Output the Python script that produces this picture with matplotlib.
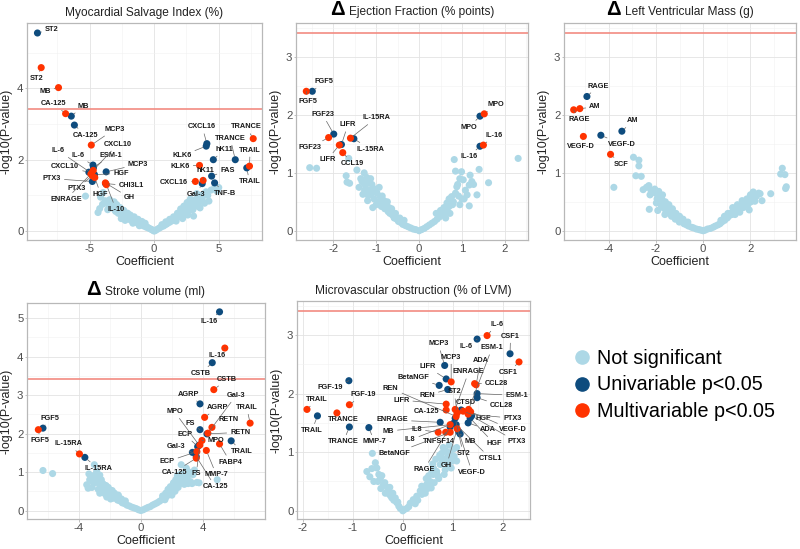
import matplotlib
matplotlib.use("Agg")
import matplotlib.pyplot as plt
from matplotlib.ticker import AutoMinorLocator, FixedLocator
from matplotlib.offsetbox import TextArea, HPacker, AnchoredOffsetbox
from matplotlib.lines import Line2D

plt.rcParams['font.family'] = ['Liberation Sans', 'DejaVu Sans']
plt.rcParams['axes.unicode_minus'] = False

# ---------------- DATA ----------------
threshold = 3.41  # -log10(0.05/128)

# Panel 1: Myocardial Salvage Index
msi_uni_names = ["ST2", "MB", "CA-125", "IL-6", "ESM-1", "CXCL10", "MCP3", "HGF", "PTX3", "CHI3L1",
                 "CXCL16", "KLK6", "hK11", "TRANCE", "TRAIL", "FAS", "TNF-B", "Gal-3"]
msi_uni_x = [-9.04, -6.42, -6.18, -4.74, -4.70, -5.06, -3.72, -4.62, -4.79, -3.76,
             4.08, 4.03, 4.58, 6.28, 7.17, 4.45, 4.68, 3.72]
msi_uni_y = [5.55, 3.22, 2.97, 1.85, 1.78, 1.65, 1.66, 1.58, 1.39, 1.33,
             2.45, 2.38, 2.00, 2.00, 1.77, 1.54, 1.35, 1.33]
msi_multi_names = ["ST2", "MB", "CA-125", "MCP3", "CXCL10", "IL-6", "PTX3", "HGF", "ENRAGE", "GH", "IL-10",
                   "TRANCE", "TRAIL", "KLK6", "hK11", "CXCL16"]
msi_multi_x = [-8.75, -7.41, -6.86, -4.87, -4.72, -4.85, -4.80, -4.60, -4.90, -3.78, -3.70,
               7.67, 7.38, 3.51, 3.79, 3.19]
msi_multi_y = [4.58, 4.02, 3.29, 2.41, 1.70, 1.62, 1.55, 1.50, 1.60, 1.35, 1.30,
               2.59, 1.82, 1.84, 1.42, 1.39]
msi_ns_x = [-5.32, -4.35, -4.22, -4.15, -3.95, -3.35, -3.52, -3.28, -3.18, -3.07, -2.98, -2.88, -2.79,
            -2.71, -2.58, -2.49, -2.44, -2.31, -2.19, -2.12, -1.98, -1.91, -1.79, -1.72, -1.61, -1.49,
            -1.42, -1.31, -1.18, -1.09, -0.97, -0.91, -0.79, -0.68, -0.61, -0.49, -0.41, -0.29, -0.18,
            -0.09, 0.0, 0.11, 0.24, 0.38, 0.52, 0.71, 0.83, 0.98, 1.16, 1.29, 1.44, 1.62, 1.73, 1.91,
            2.02, 2.11, 2.19, 2.33, 2.41, 2.52, 2.63, 2.71, 2.77, 2.86, 2.94, 3.05, 3.12, 3.21, 3.32,
            3.41, 3.52, 3.61, 3.72, 3.86, 4.02, 4.24, 4.41, 4.71, 5.0, 4.86,
            -3.8, -3.45, -3.1, -2.9, -2.65, -2.35, -2.05, -1.85, -1.55, -1.25, -0.95, -0.7, -2.55,
            -2.25, -1.65, -1.15, -3.6, -4.0, 0.6, 0.9, 1.2, 1.5, 1.8, 2.05, 2.3, 2.55, 2.8, 3.0,
            3.3, 2.6, 2.2, 1.7, 3.55, 3.9, 4.15]
msi_ns_y = [0.98, 0.52, 0.63, 0.95, 1.08, 0.77, 0.72, 0.66, 0.70, 0.60, 0.55, 0.62, 0.50,
            0.56, 0.47, 0.51, 0.42, 0.45, 0.38, 0.41, 0.34, 0.37, 0.30, 0.33, 0.27, 0.30,
            0.24, 0.26, 0.20, 0.22, 0.17, 0.19, 0.14, 0.15, 0.11, 0.10, 0.08, 0.06, 0.04,
            0.02, 0.0, 0.02, 0.05, 0.08, 0.11, 0.14, 0.17, 0.20, 0.24, 0.27, 0.30, 0.34, 0.37, 0.41,
            0.45, 0.50, 0.43, 0.55, 0.60, 0.52, 0.66, 0.58, 0.72, 0.65, 0.80, 0.42, 0.74, 0.88, 0.70,
            0.95, 0.82, 1.00, 0.90, 1.05, 1.10, 0.84, 1.15, 1.25, 1.22, 1.12,
            0.85, 0.88, 0.82, 0.74, 0.66, 0.58, 0.50, 0.45, 0.40, 0.33, 0.27, 0.22, 0.35,
            0.30, 0.22, 0.15, 0.60, 0.75, 0.18, 0.26, 0.33, 0.40, 0.50, 0.62, 0.70, 0.80, 0.90, 0.60,
            1.05, 0.45, 0.35, 0.28, 0.65, 0.78, 1.00]

# Panel 2: Delta Ejection Fraction
ef_uni_names = ["FGF5", "FGF23", "LIFR", "IL-15RA", "MPO", "IL-16"]
ef_uni_x = [-2.49, -1.99, -1.81, -1.52, 1.42, 1.42]
ef_uni_y = [2.41, 1.67, 1.49, 1.59, 1.98, 1.46]
ef_multi_names = ["FGF5", "FGF23", "LIFR", "IL-15RA", "CCL19", "MPO", "IL-16"]
ef_multi_x = [-2.63, -2.11, -1.86, -1.60, -1.78, 1.52, 1.50]
ef_multi_y = [2.41, 1.61, 1.48, 1.60, 1.35, 2.02, 1.48]
ef_ns_x = [-2.55, -2.39, -1.70, -1.64, -1.68, -1.62, -1.45, -1.36, -1.28, -1.22, -1.25, -1.18, -1.15,
           -1.12, -1.10, -1.05, -1.02, -0.98, -0.95, -0.90, -0.88, -0.85, -0.80, -0.76, -0.72, -0.68,
           -0.62, -0.58, -0.52, -0.48, -0.42, -0.38, -0.32, -0.26, -0.20, -0.14, -0.08, 0.0, -1.31,
           -1.20, -1.08, 0.06, 0.12, 0.18, 0.24, 0.30, 0.36, 0.42, 0.48, 0.55, 0.60, 0.65, 0.70, 0.76,
           0.80, 0.88, 0.92, 0.99, 1.03, 1.08, 1.19, 1.17, 1.27, 1.40, 1.62, 1.17, 2.31, 0.82, 0.85,
           1.05, 0.72, 0.95, 1.35,
           -1.40, -1.33, -1.27, -1.20, -1.13, -1.06, -1.00, -0.93, -0.86, -0.82, -0.74, -0.70, -0.64,
           -0.55, -0.45, -0.35, 0.50, 0.58, 0.65, 0.70, 0.78, 0.85, 0.90, 0.95, 1.00, 1.12, 1.23,
           0.62, 0.40]
ef_ns_y = [1.09, 1.08, 0.95, 1.25, 0.84, 0.82, 1.05, 0.90, 1.00, 0.92, 0.78, 0.85, 0.70,
           0.62, 0.80, 0.55, 0.72, 0.65, 0.50, 0.58, 0.42, 0.47, 0.38, 0.44, 0.33, 0.30,
           0.27, 0.22, 0.20, 0.16, 0.14, 0.11, 0.09, 0.07, 0.05, 0.03, 0.02, 0.0, 0.63,
           0.52, 0.40, 0.02, 0.04, 0.07, 0.10, 0.13, 0.16, 0.20, 0.24, 0.28, 0.32, 0.36, 0.42, 0.59,
           0.50, 0.76, 0.60, 1.02, 0.88, 0.70, 0.96, 0.79, 0.80, 1.06, 0.83, 0.43, 1.25, 1.23, 1.03,
           0.55, 0.30, 0.45, 0.62,
           0.75, 0.85, 0.70, 0.62, 0.90, 0.68, 0.45, 0.75, 0.60, 0.52, 0.50, 0.40, 0.38,
           0.30, 0.22, 0.18, 0.35, 0.40, 0.48, 0.55, 0.45, 0.65, 0.80, 0.90, 0.55, 0.62, 0.85,
           0.22, 0.30]

# Panel 3: Delta Left Ventricular Mass
lvm_uni_names = ["RAGE", "AM", "VEGF-D"]
lvm_uni_x = [-4.92, -3.44, -4.33]
lvm_uni_y = [2.32, 1.72, 1.65]
lvm_multi_names = ["RAGE", "AM", "VEGF-D", "SCF"]
lvm_multi_x = [-5.48, -5.22, -5.07, -3.92]
lvm_multi_y = [2.09, 2.11, 1.63, 1.32]
lvm_ns_x = [-2.95, -2.72, -2.72, -2.85, -2.62, -3.78, -2.30, -2.54, -2.28, -2.21, -2.12, -2.02, -1.95,
            -1.90, -1.84, -1.79, -1.75, -1.70, -1.66, -1.58, -1.49, -1.41, -1.34, -1.26, -1.18, -1.10,
            -1.01, -0.92, -0.81, -0.70, -0.61, -0.49, -0.41, -0.29, -0.18, -0.09, 0.0, 0.08, 0.19,
            0.31, 0.42, 0.51, 0.62, 0.71, 0.79, 0.91, 1.02, 1.08, 1.13, 1.21, 1.31, 1.42, 1.51, 1.62,
            1.70, 1.81, 1.89, 2.02, 2.11, 2.19, 2.26, 2.41, 2.49, 2.86, 3.35, 3.46, 3.28, 3.52, 3.49,
            2.12, 1.95,
            -2.40, -2.25, -2.05, -1.98, -1.88, -1.82, -1.72, -1.60, -1.55, -1.45, -1.30, -1.15, -1.00,
            -0.85, -0.65, -1.92, -1.62, 0.90, 1.05, 1.25, 1.45, 1.65, 1.85, 2.00, 2.15, 2.35, 1.35,
            1.55, 0.75]
lvm_ns_y = [1.27, 1.22, 1.12, 0.95, 0.94, 0.75, 0.78, 0.71, 0.37, 0.70, 0.68, 0.65, 0.55,
            0.60, 0.50, 0.45, 0.55, 0.40, 0.48, 0.35, 0.38, 0.30, 0.25, 0.28, 0.20, 0.22,
            0.15, 0.17, 0.12, 0.10, 0.08, 0.06, 0.05, 0.03, 0.02, 0.01, 0.0, 0.01, 0.03,
            0.04, 0.06, 0.08, 0.10, 0.12, 0.15, 0.18, 0.22, 0.25, 0.30, 0.28, 0.32, 0.35, 0.38, 0.45,
            0.40, 0.48, 0.45, 0.50, 0.58, 0.51, 0.60, 0.64, 0.52, 0.64, 1.08, 0.97, 0.98, 0.76, 0.73,
            0.67, 0.36,
            0.75, 0.62, 0.72, 0.48, 0.68, 0.58, 0.62, 0.50, 0.42, 0.45, 0.38, 0.30, 0.25,
            0.20, 0.15, 0.35, 0.28, 0.25, 0.30, 0.40, 0.45, 0.52, 0.55, 0.62, 0.55, 0.65, 0.28,
            0.32, 0.18]

# Panel 4: Delta Stroke volume
sv_uni_names = ["IL-16", "CSTB", "AGRP", "FS", "MPO", "ECP", "Gal-3", "RETN", "TRAIL", "FGF5",
                "IL-15RA", "CA-125"]
sv_uni_x = [5.07, 4.60, 3.81, 3.81, 3.75, 3.66, 3.32, 4.26, 5.82, -6.31, -3.61, 3.57]
sv_uni_y = [5.16, 3.84, 2.77, 2.10, 1.70, 1.66, 1.51, 1.99, 1.81, 2.14, 1.38, 1.40]
sv_multi_names = ["IL-16", "CSTB", "AGRP", "Gal-3", "RETN", "TRAIL", "MPO", "ECP", "FS", "CA-125",
                  "FABP4", "MMP-7", "FGF5", "IL-15RA"]
sv_multi_x = [5.41, 4.70, 4.11, 4.32, 4.58, 7.04, 3.94, 3.61, 3.80, 3.57, 5.07, 4.22, -6.61, -3.96]
sv_multi_y = [4.22, 3.14, 2.42, 2.01, 2.16, 2.27, 1.82, 1.53, 1.70, 1.36, 1.73, 1.56, 2.10, 1.47]
sv_ns_x = [-6.31, -5.69, -3.00, -2.85, -3.49, -3.30, -3.15, -3.05, -2.95, -2.80, -2.75, -2.60, -2.50,
           -2.40, -2.30, -2.15, -2.00, -1.90, -1.75, -1.60, -1.50, -1.35, -1.20, -1.05, -0.90, -0.75,
           -0.60, -0.45, -0.30, -0.15, 0.0, 0.15, 0.30, 0.45, 0.60, 0.75, 0.90, 1.05, 1.20, 1.35,
           1.50, 1.65, 1.80, 1.95, 2.05, 2.15, 2.20, 2.30, 2.40, 2.50, 2.60, 2.70, 2.80, 2.93, 3.00,
           3.10, 3.20, 3.36, 3.45, 3.61, 3.75, 4.92, 2.45, -3.40, -2.65,
           -3.35, -3.10, -2.90, -2.70, -2.55, -2.45, -2.25, -2.10, -1.85, -1.70, -1.45, -1.25, -1.00,
           -2.20, -1.95, -2.65, 1.40, 1.60, 1.75, 1.90, 2.10, 2.25, 2.35, 2.55, 2.65, 2.85, 3.05,
           3.30, 2.00, 1.55]
sv_ns_y = [1.04, 0.96, 1.19, 1.02, 0.67, 0.80, 0.60, 0.90, 0.72, 0.85, 0.55, 0.65, 0.48,
           0.58, 0.43, 0.50, 0.38, 0.42, 0.32, 0.35, 0.27, 0.25, 0.20, 0.18, 0.14, 0.12,
           0.09, 0.07, 0.05, 0.02, 0.0, 0.02, 0.05, 0.08, 0.10, 0.14, 0.17, 0.20, 0.24, 0.28,
           0.32, 0.36, 0.42, 0.48, 0.55, 0.62, 0.50, 0.70, 0.60, 0.93, 1.19, 0.78, 0.68, 1.10, 0.88,
           1.00, 0.75, 0.93, 1.05, 0.73, 0.72, 0.80, 0.85, 0.58, 0.92,
           0.95, 0.75, 0.95, 0.75, 0.80, 0.70, 0.65, 0.60, 0.52, 0.45, 0.40, 0.30, 0.25,
           0.35, 0.30, 0.45, 0.38, 0.45, 0.55, 0.62, 0.72, 0.80, 0.90, 0.70, 0.95, 0.85, 0.70,
           0.70, 0.40, 0.28]

# Panel 5: Microvascular obstruction
mvo_uni_names = ["IL-6", "CSF1", "MCP3", "LIFR", "BetaNGF", "REN", "ESM-1", "CCL28", "FGF-19", "TRAIL",
                 "TRANCE", "MMP-7", "CTSD", "HGF", "ADA", "ENRAGE", "MB", "CTSL1", "RAGE", "PTX3",
                 "VEGF-D", "ST2", "IL8"]
mvo_uni_x = [1.49, 2.15, 0.84, 0.87, 0.73, 0.90, 1.49, 1.49, -1.08, -1.71,
             -1.07, -0.68, 1.17, 1.35, 1.31, 0.75, 1.15, 1.07, 0.95, 1.38,
             1.12, 1.05, 1.01]
mvo_uni_y = [2.93, 2.68, 2.48, 2.25, 2.14, 2.07, 2.00, 1.93, 2.22, 1.62,
             1.43, 1.42, 1.72, 1.58, 1.50, 1.51, 1.31, 1.47, 1.43, 1.62,
             1.35, 1.58, 1.49]
mvo_multi_names = ["IL-6", "CSF1", "MCP3", "CCL28", "ADA", "ESM-1", "ENRAGE", "ST2", "REN", "LIFR",
                   "CA-125", "FGF-19", "TRAIL", "TRANCE", "HGF", "PTX3", "VEGF-D", "MB", "IL8",
                   "TNFSF14", "BetaNGF", "GH"]
mvo_multi_x = [1.69, 2.33, 0.97, 1.44, 1.47, 1.32, 1.05, 1.09, 1.07, 0.87,
               0.87, -1.07, -1.92, -1.32, 1.21, 1.31, 1.36, 0.95, 0.71,
               0.86, 0.95, 1.09]
mvo_multi_y = [2.99, 2.54, 2.20, 2.17, 2.15, 1.73, 1.73, 1.67, 1.61, 1.82,
               1.72, 1.81, 1.73, 1.67, 1.70, 1.65, 1.69, 1.47, 1.34,
               1.34, 1.34, 1.40]
mvo_ns_x = [-0.72, -0.61, -0.52, -0.45, -0.39, -0.29, -0.22, -0.12, -0.66, -0.58, -0.48, -0.35,
            -0.31, -0.25, -0.18, -0.08, 0.0, 0.08, 0.15, 0.21, 0.28, 0.35, 0.41, 0.48, 0.55, 0.61,
            0.68, 0.75, 0.81, 0.88, 0.95, 1.01, 1.08, 0.57, 0.81, 0.97, 1.08, 0.45, 0.52, 0.63,
            0.72, 0.78, 0.85, 0.92, 0.66, 0.74, 0.90, 0.38, 0.25, 0.12, 0.03, -0.05,
            -0.62, -0.55, -0.50, -0.42, -0.44, -0.36, -0.30, -0.26, -0.20, -0.15, -0.10, 0.30,
            0.38, 0.50, 0.58, 0.62, 0.70, 0.77, 0.83, 0.86, 0.93, 0.99, 1.03, 0.60, 0.47]
mvo_ns_y = [0.67, 0.98, 0.73, 0.55, 0.44, 0.36, 0.22, 0.14, 0.58, 0.50, 0.62, 0.30,
            0.40, 0.26, 0.18, 0.08, 0.0, 0.04, 0.13, 0.19, 0.25, 0.34, 0.39, 0.45, 0.50, 0.62,
            0.67, 0.79, 0.85, 0.90, 0.96, 1.05, 1.08, 0.39, 1.08, 0.73, 0.85, 0.30, 0.60, 0.48,
            0.55, 0.98, 0.70, 0.80, 0.88, 0.95, 1.00, 0.28, 0.12, 0.07, 0.02, 0.04,
            0.72, 0.82, 0.50, 0.60, 0.38, 0.48, 0.30, 0.40, 0.30, 0.22, 0.15, 0.18,
            0.42, 0.38, 0.65, 0.72, 0.60, 0.90, 0.62, 1.02, 1.12, 0.85, 0.93, 0.80, 0.55]

# ---------------- LABEL LAYOUT (text centres, data units) ----------------
LABEL_POS = {
    "msi": {
        "uni": [(-7.93, 5.65), (-5.5, 3.5), (-5.32, 2.69), (-5.92, 2.11), (-3.35, 2.12), (-6.89, 1.80),
                (-1.26, 1.87), (-2.57, 1.62), (-7.93, 1.47), (-1.78, 1.27),
                (3.72, 2.92), (2.14, 2.11), (5.42, 2.29), (5.89, 2.60), (7.38, 1.38), (5.68, 1.71),
                (5.50, 1.05), (3.24, 1.03)],
        "multi": [(-9.11, 4.28), (-8.46, 3.92), (-7.80, 3.57), (-3.09, 2.85), (-2.83, 2.43), (-7.41, 2.25),
                  (-6.02, 1.19), (-4.14, 1.03), (-6.83, 0.89), (-1.92, 0.94), (-2.96, 0.61),
                  (7.12, 2.92), (7.43, 2.27), (2.01, 1.82), (3.93, 1.69), (1.54, 1.36)],
    },
    "ef": {
        "uni": [(-2.21, 2.58), (-2.25, 2.01), (-1.66, 1.83), (-1.14, 1.41), (1.17, 1.79), (1.16, 1.28)],
        "multi": [(-2.60, 2.24), (-2.54, 1.44), (-2.14, 1.23), (-1.00, 1.95), (-1.55, 1.16),
                  (1.78, 2.18), (1.75, 1.65)],
    },
    "lvm": {
        "uni": [(-4.45, 2.50), (-2.97, 1.90), (-3.43, 1.49)],
        "multi": [(-5.25, 1.92), (-4.58, 2.14), (-5.19, 1.45), (-3.46, 1.15)],
    },
    "sv": {
        "uni": [(4.38, 4.91), (3.87, 3.56), (3.10, 3.02), (3.15, 2.27), (2.16, 2.57), (2.84, 1.98),
                (2.29, 1.65), (6.40, 2.03), (6.53, 1.53), (-5.88, 2.40), (-2.76, 1.09), (4.79, 0.62)],
        "multi": [(4.89, 4.03), (5.56, 3.41), (4.96, 2.68), (6.14, 2.99), (5.67, 2.36), (6.82, 2.68),
                  (4.81, 1.83), (1.69, 1.27), (3.57, 0.95), (2.14, 1.00), (5.76, 1.26), (4.86, 0.93),
                  (-6.48, 1.81), (-4.67, 1.73)],
    },
    "mvo": {
        "uni": [(1.27, 2.81), (2.16, 2.98), (0.71, 2.85), (0.49, 2.46), (0.21, 2.28), (0.49, 1.97),
                (2.28, 1.97), (1.98, 1.79), (-1.45, 2.10), (-1.82, 1.37), (-1.19, 1.18), (-0.57, 1.18),
                (1.27, 1.85), (1.83, 1.15), (1.71, 1.38), (-0.21, 1.55), (1.36, 1.18), (1.75, 0.90),
                (0.43, 0.71), (2.28, 1.18), (1.39, 0.66), (1.21, 0.98), (0.15, 1.21)],
        "multi": [(1.88, 3.18), (2.12, 2.36), (0.97, 2.62), (1.88, 2.17), (1.56, 2.57), (1.79, 2.78),
                  (1.32, 2.37), (1.03, 2.03), (-0.24, 2.09), (-0.03, 1.89), (0.47, 1.69), (-0.80, 1.98),
                  (-1.72, 1.90), (-1.19, 1.55), (1.61, 1.57), (2.20, 1.58), (2.20, 1.38), (-0.29, 1.36),
                  (0.28, 1.39), (0.72, 1.18), (-0.17, 0.98), (0.88, 0.78)],
    },
}

# ---------------- STYLE ----------------
C_NS = "#ADD8E6"
C_UNI = "#0E4C7E"
C_MULTI = "#FF3300"
C_THR = "#F28B82"

W, H = 800, 549
fig = plt.figure(figsize=(W / 100, H / 100), dpi=100)


def px_axes(l, t, r, b):
    return fig.add_axes([l / W, 1 - b / H, (r - l) / W, (b - t) / H])


panels = [
    dict(key="msi", box=(27, 23, 262, 240), xlim=(-9.85, 8.35), ylim=(-0.25, 5.83),
         xt=[-5, 0, 5], yt=[0, 2, 4], delta=False, title="Myocardial Salvage Index (%)",
         ns=(msi_ns_x, msi_ns_y), uni=(msi_uni_names, msi_uni_x, msi_uni_y),
         multi=(msi_multi_names, msi_multi_x, msi_multi_y)),
    dict(key="ef", box=(296, 23, 528, 240), xlim=(-2.87, 2.54), ylim=(-0.16, 3.59),
         xt=[-2, -1, 0, 1, 2], yt=[0, 1, 2, 3], delta=True, title="Ejection Fraction (% points)",
         ns=(ef_ns_x, ef_ns_y), uni=(ef_uni_names, ef_uni_x, ef_uni_y),
         multi=(ef_multi_names, ef_multi_x, ef_multi_y)),
    dict(key="lvm", box=(564, 23, 796, 240), xlim=(-5.89, 3.93), ylim=(-0.16, 3.59),
         xt=[-4, -2, 0, 2], yt=[0, 1, 2, 3], delta=True, title="Left Ventricular Mass (g)",
         ns=(lvm_ns_x, lvm_ns_y), uni=(lvm_uni_names, lvm_uni_x, lvm_uni_y),
         multi=(lvm_multi_names, lvm_multi_x, lvm_multi_y)),
    dict(key="sv", box=(27, 303, 265, 519), xlim=(-7.34, 8.0), ylim=(-0.22, 5.39),
         xt=[-4, 0, 4], yt=[0, 1, 2, 3, 4, 5], delta=True, title="Stroke volume (ml)",
         ns=(sv_ns_x, sv_ns_y), uni=(sv_uni_names, sv_uni_x, sv_uni_y),
         multi=(sv_multi_names, sv_multi_x, sv_multi_y)),
    dict(key="mvo", box=(297, 301, 530, 519), xlim=(-2.12, 2.55), ylim=(-0.14, 3.58),
         xt=[-2, -1, 0, 1, 2], yt=[0, 1, 2, 3], delta=False, title="Microvascular obstruction (% of LVM)",
         ns=(mvo_ns_x, mvo_ns_y), uni=(mvo_uni_names, mvo_uni_x, mvo_uni_y),
         multi=(mvo_multi_names, mvo_multi_x, mvo_multi_y)),
]

for p in panels:
    l, t, r, b = p["box"]
    ax = px_axes(l, t, r, b)
    wpx, hpx = r - l, b - t
    ax.set_xlim(*p["xlim"])
    ax.set_ylim(*p["ylim"])
    ax.xaxis.set_major_locator(FixedLocator(p["xt"]))
    ax.yaxis.set_major_locator(FixedLocator(p["yt"]))
    ax.xaxis.set_minor_locator(AutoMinorLocator(2))
    ax.yaxis.set_minor_locator(AutoMinorLocator(2))
    ax.grid(which="major", color="#E3E3E3", lw=0.6, zorder=0)
    ax.grid(which="minor", color="#F1F1F1", lw=0.4, zorder=0)
    ax.set_axisbelow(True)
    for s in ax.spines.values():
        s.set_color("#B8B8B8")
        s.set_linewidth(0.9)
    ax.tick_params(which="major", length=1.8, width=0.6, color="#B8B8B8",
                   labelsize=8.2, labelcolor="#4D4D4D", pad=0.8)
    ax.tick_params(which="minor", length=0)
    ax.set_xlabel("Coefficient", fontsize=9.0, color="#222222")
    ax.set_ylabel("-log10(P-value)", fontsize=9.0, color="#222222")
    ax.xaxis.set_label_coords(0.5, -16.0 / hpx)
    ax.yaxis.set_label_coords(-14.5 / wpx, 0.5)

    ax.axhline(threshold, color=C_THR, lw=1.2, zorder=1.5)

    nx, ny = p["ns"]
    ax.scatter(nx, ny, s=26, color=C_NS, edgecolors="none", zorder=2)
    un, ux, uy = p["uni"]
    ax.scatter(ux, uy, s=26, color=C_UNI, edgecolors="none", zorder=3)
    mn, mx, my = p["multi"]
    ax.scatter(mx, my, s=26, color=C_MULTI, edgecolors="none", zorder=3)

    for series, (names, xs, ys) in (("uni", p["uni"]), ("multi", p["multi"])):
        for name, x, y, (lx, ly) in zip(names, xs, ys, LABEL_POS[p["key"]][series]):
            ax.annotate(name, xy=(x, y), xytext=(lx, ly), textcoords="data",
                        ha="center", va="center", fontsize=5.3, fontweight="bold",
                        color="#1A1A1A", zorder=5,
                        arrowprops=dict(arrowstyle="-", color="#666666", lw=0.5,
                                        shrinkA=0.5, shrinkB=2.5))

    # title (with optional large Delta)
    parts = []
    if p["delta"]:
        parts.append(TextArea("Δ", textprops=dict(size=14.5, weight="bold", color="black")))
    parts.append(TextArea(p["title"], textprops=dict(size=8.6, color="#222222")))
    pack = HPacker(children=parts, align="baseline", pad=0, sep=3)
    ab = AnchoredOffsetbox(loc="lower center", child=pack, pad=0, borderpad=0.3,
                           bbox_to_anchor=(0.5, 1.0), bbox_transform=ax.transAxes, frameon=False)
    ax.add_artist(ab)

# legend
handles = [Line2D([], [], marker="o", ls="", color=C_NS, markersize=9.5),
           Line2D([], [], marker="o", ls="", color=C_UNI, markersize=9.5),
           Line2D([], [], marker="o", ls="", color=C_MULTI, markersize=9.5)]
labels = ["Not significant", "Univariable p<0.05", "Multivariable p<0.05"]
fig.legend(handles, labels, loc="center left", bbox_to_anchor=(572 / W, 1 - 385 / H),
           frameon=False, fontsize=14.2, handletextpad=0.25, labelspacing=0.36,
           handlelength=1.0, borderaxespad=0, borderpad=0)

fig.savefig("out.png", dpi=100)
